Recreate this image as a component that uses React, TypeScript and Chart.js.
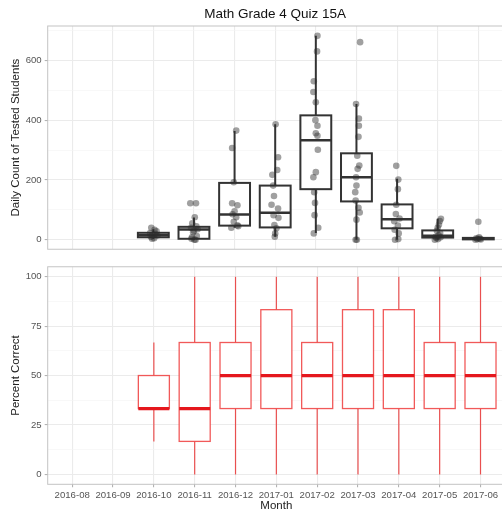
import React, { useEffect, useRef } from 'react';
import { Chart, registerables } from 'chart.js';

Chart.register(...registerables);

// ---------- data ----------
const months = ['2016-08', '2016-09', '2016-10', '2016-11', '2016-12', '2017-01', '2017-02', '2017-03', '2017-04', '2017-05', '2017-06'];

// Daily count of tested students: box statistics
const countLow = [null, null, 3, 0, 40, 10, 22, 0, 0, 0, 0];
const countQ1 = [null, null, 8, 3, 47, 41, 169, 128, 38, 7, 1];
const countMedian = [null, null, 15, 34, 84, 90, 333, 209, 68, 13, 3];
const countQ3 = [null, null, 23, 43, 190, 181, 416, 289, 118, 31, 6];
const countHigh = [null, null, 35, 74, 364, 386, 682, 454, 204, 70, 10];

// Daily counts (jittered points)
const countPoints: number[][] = [
  [],
  [],
  [40, 33, 28, 22, 20, 16, 14, 10, 5, 3],
  [122, 122, 75, 55, 45, 40, 35, 30, 25, 12, 8, 3, 0, 0],
  [365, 307, 192, 122, 115, 95, 85, 75, 60, 48, 45, 40],
  [386, 276, 233, 217, 181, 146, 117, 104, 82, 73, 49, 38, 21, 10],
  [682, 630, 530, 494, 460, 400, 381, 356, 348, 301, 226, 209, 159, 123, 82, 40, 21],
  [661, 454, 405, 381, 344, 281, 248, 237, 209, 181, 159, 131, 107, 91, 67, 0, 0],
  [247, 201, 169, 117, 86, 71, 62, 47, 33, 21, 0, 2],
  [70, 62, 50, 40, 30, 22, 15, 10, 8, 5, 2, 0],
  [60, 8, 5, 3, 2, 1, 0],
];
const countJitter: number[][] = [
  [],
  [],
  [-0.05, 0.03, 0.08, -0.08, 0.05, -0.02, 0.1, -0.06, 0.02, -0.03],
  [-0.09, 0.05, 0.02, -0.04, 0.06, -0.07, 0.09, 0.0, -0.02, 0.07, -0.05, -0.06, 0.01, 0.04],
  [0.04, -0.06, -0.02, -0.06, 0.07, 0.0, -0.05, 0.04, -0.02, 0.07, 0.09, -0.08],
  [0.01, 0.07, 0.05, -0.07, -0.05, -0.03, -0.09, 0.07, -0.04, 0.08, -0.02, 0.03, 0.0, -0.01],
  [0.04, 0.03, -0.05, -0.06, 0.0, -0.01, 0.04, 0.0, 0.04, 0.05, 0.0, -0.06, -0.04, -0.02, -0.03, 0.06, -0.05],
  [0.09, -0.01, 0.06, 0.06, 0.05, 0.02, 0.07, 0.03, -0.01, 0.0, -0.03, -0.02, 0.05, 0.08, 0.0, -0.02, 0.01],
  [-0.02, 0.03, 0.02, -0.02, -0.03, 0.06, -0.07, 0.02, -0.06, 0.04, -0.05, 0.03],
  [0.08, 0.05, 0.03, 0.0, -0.02, 0.06, 0.02, -0.05, 0.07, -0.03, 0.01, -0.07],
  [0.0, 0.02, -0.05, 0.04, -0.02, 0.06, -0.07],
];

// Percent correct: box statistics
const pctLow = [null, null, 16.7, 0, 0, 0, 0, 0, 0, 0, 0];
const pctQ1 = [null, null, 33.3, 16.7, 33.3, 33.3, 33.3, 33.3, 33.3, 33.3, 33.3];
const pctMedian = [null, null, 33.3, 33.3, 50, 50, 50, 50, 50, 50, 50];
const pctQ3 = [null, null, 50, 66.7, 66.7, 83.3, 66.7, 83.3, 83.3, 66.7, 66.7];
const pctHigh = [null, null, 66.7, 100, 100, 100, 100, 100, 100, 100, 100];

const countTicks = [0, 100, 200, 300, 400, 500, 600, 700];
const pctTicks = [0, 12.5, 25, 37.5, 50, 62.5, 75, 87.5, 100];

const title = 'Math Grade 4 Quiz 15A';
const FONT = "'Liberation Sans', Arial, sans-serif";

type BoxStyle = { stroke: string; lineWidth: number; whiskerColor: string; whiskerWidth: number; medianColor: string; medianWidth: number };

function boxPlugin(id: string, low: (number | null)[], q1: (number | null)[], med: (number | null)[], q3: (number | null)[], high: (number | null)[], st: BoxStyle) {
  return {
    id,
    beforeDatasetsDraw(chart: any) {
      const { ctx, chartArea, scales } = chart;
      const x = scales.x, y = scales.y;
      ctx.save();
      ctx.beginPath();
      ctx.rect(chartArea.left, chartArea.top, chartArea.right - chartArea.left, chartArea.bottom - chartArea.top);
      ctx.clip();
      const bw = 0.76;
      for (let i = 0; i < med.length; i++) {
        if (med[i] == null) continue;
        const cx = x.getPixelForValue(i);
        const xl = x.getPixelForValue(i - bw / 2);
        const xr = x.getPixelForValue(i + bw / 2);
        const yLo = y.getPixelForValue(low[i] as number);
        const yQ1 = y.getPixelForValue(q1[i] as number);
        const yMed = y.getPixelForValue(med[i] as number);
        const yQ3 = y.getPixelForValue(q3[i] as number);
        const yHi = y.getPixelForValue(high[i] as number);
        ctx.strokeStyle = st.whiskerColor;
        ctx.lineWidth = st.whiskerWidth;
        ctx.beginPath();
        ctx.moveTo(cx, yQ3);
        ctx.lineTo(cx, yHi);
        ctx.moveTo(cx, yQ1);
        ctx.lineTo(cx, yLo);
        ctx.stroke();
        ctx.fillStyle = '#ffffff';
        ctx.fillRect(xl, yQ3, xr - xl, yQ1 - yQ3);
        ctx.strokeStyle = st.stroke;
        ctx.lineWidth = st.lineWidth;
        ctx.strokeRect(xl, yQ3, xr - xl, yQ1 - yQ3);
        ctx.strokeStyle = st.medianColor;
        ctx.lineWidth = st.medianWidth;
        ctx.beginPath();
        ctx.moveTo(xl, yMed);
        ctx.lineTo(xr, yMed);
        ctx.stroke();
      }
      ctx.restore();
    },
  };
}

const borderPlugin = {
  id: 'panelBorder',
  afterDraw(chart: any) {
    const { ctx, chartArea } = chart;
    ctx.save();
    ctx.strokeStyle = '#c4c4c4';
    ctx.lineWidth = 1;
    ctx.strokeRect(chartArea.left, chartArea.top, chartArea.right - chartArea.left, chartArea.bottom - chartArea.top);
    ctx.restore();
  },
};

const titlePlugin = {
  id: 'mainTitle',
  afterDraw(chart: any) {
    const { ctx, chartArea } = chart;
    ctx.save();
    ctx.fillStyle = '#111111';
    ctx.font = `13.5px ${FONT}`;
    ctx.textAlign = 'center';
    ctx.textBaseline = 'middle';
    ctx.fillText(title, (chartArea.left + chartArea.right) / 2, 14);
    ctx.restore();
  },
};

const X_MIN = -0.6;
const X_MAX = 10.6;
const Y_AXIS_W = 47.7;

function xScale(showLabels: boolean) {
  return {
    type: 'linear',
    min: X_MIN,
    max: X_MAX,
    afterBuildTicks: (s: any) => {
      s.ticks = months.map((_, i) => ({ value: i }));
    },
    afterFit: (s: any) => {
      s.height = showLabels ? 30.7 : 0;
    },
    border: { display: false },
    grid: {
      color: '#ebebeb',
      lineWidth: 1.1,
      drawTicks: showLabels,
      tickLength: 3,
      tickColor: '#b3b3b3',
    },
    ticks: {
      display: showLabels,
      autoSkip: false,
      maxRotation: 0,
      padding: 2,
      color: '#555555',
      font: { family: FONT, size: 9.6 },
      callback: (v: any) => months[Math.round(v)] ?? '',
    },
    title: {
      display: showLabels,
      text: 'Month',
      color: '#222222',
      font: { family: FONT, size: 11.5 },
      padding: { top: 0, bottom: 2 },
    },
  };
}

function yScale(min: number, max: number, ticks: number[], isMajor: (v: number) => boolean, label: string) {
  return {
    type: 'linear',
    min,
    max,
    afterBuildTicks: (s: any) => {
      s.ticks = ticks.map((v) => ({ value: v }));
    },
    afterFit: (s: any) => {
      s.width = Y_AXIS_W;
    },
    border: { display: false },
    grid: {
      color: (c: any) => (isMajor(c.tick.value) ? '#ebebeb' : '#f4f4f4'),
      lineWidth: (c: any) => (isMajor(c.tick.value) ? 1.1 : 0.6),
      drawTicks: true,
      tickLength: 3,
      tickColor: (c: any) => (isMajor(c.tick.value) ? '#b3b3b3' : 'rgba(0,0,0,0)'),
    },
    ticks: {
      autoSkip: false,
      padding: 3,
      color: '#555555',
      font: { family: FONT, size: 9.6 },
      callback: (v: any) => (isMajor(v) ? String(v) : ''),
    },
    title: {
      display: true,
      text: label,
      color: '#222222',
      font: { family: FONT, size: 11.5 },
      padding: { top: 9, bottom: 0 },
    },
  };
}

export default function App() {
  const topRef = useRef<HTMLCanvasElement>(null);
  const botRef = useRef<HTMLCanvasElement>(null);

  useEffect(() => {
    const pts: { x: number; y: number }[] = [];
    countPoints.forEach((vals, i) => {
      vals.forEach((v, j) => pts.push({ x: i + (countJitter[i][j] ?? 0), y: v }));
    });

    const top = new Chart(topRef.current as HTMLCanvasElement, {
      type: 'scatter',
      data: {
        datasets: [
          {
            data: pts,
            backgroundColor: 'rgba(45,45,45,0.45)',
            borderWidth: 0,
            pointRadius: 3.3,
            pointHoverRadius: 3.3,
          },
        ],
      },
      options: {
        responsive: false,
        animation: false,
        devicePixelRatio: 1,
        layout: { padding: { top: 26, bottom: 7, left: 0, right: 1 } },
        plugins: { legend: { display: false }, tooltip: { enabled: false }, title: { display: false } },
        scales: {
          x: xScale(false) as any,
          y: yScale(-32, 715, countTicks, (v) => v % 200 === 0, 'Daily Count of Tested Students') as any,
        },
      },
      plugins: [
        boxPlugin('countBoxes', countLow, countQ1, countMedian, countQ3, countHigh, {
          stroke: '#333333',
          lineWidth: 2,
          whiskerColor: '#333333',
          whiskerWidth: 2,
          medianColor: '#333333',
          medianWidth: 2.5,
        }),
        borderPlugin,
        titlePlugin,
      ],
    });

    const bot = new Chart(botRef.current as HTMLCanvasElement, {
      type: 'scatter',
      data: { datasets: [{ data: [], pointRadius: 0 }] },
      options: {
        responsive: false,
        animation: false,
        devicePixelRatio: 1,
        layout: { padding: { top: 7.3, bottom: 0, left: 0, right: 1 } },
        plugins: { legend: { display: false }, tooltip: { enabled: false }, title: { display: false } },
        scales: {
          x: xScale(true) as any,
          y: yScale(-5, 105, pctTicks, (v) => v % 25 === 0, 'Percent Correct') as any,
        },
      },
      plugins: [
        boxPlugin('pctBoxes', pctLow, pctQ1, pctMedian, pctQ3, pctHigh, {
          stroke: 'rgba(238,60,60,0.85)',
          lineWidth: 1.3,
          whiskerColor: 'rgba(232,40,40,0.8)',
          whiskerWidth: 1.2,
          medianColor: '#e5171d',
          medianWidth: 3.2,
        }),
        borderPlugin,
      ],
    });

    return () => {
      top.destroy();
      bot.destroy();
    };
  }, []);

  return (
    <div style={{ position: 'absolute', left: 0, top: 0, width: 502, height: 515, overflow: 'hidden', background: '#ffffff' }}>
      <canvas ref={topRef} width={506} height={258} style={{ position: 'absolute', left: 0, top: 0, display: 'block' }} />
      <canvas ref={botRef} width={506} height={257} style={{ position: 'absolute', left: 0, top: 258, display: 'block' }} />
    </div>
  );
}
